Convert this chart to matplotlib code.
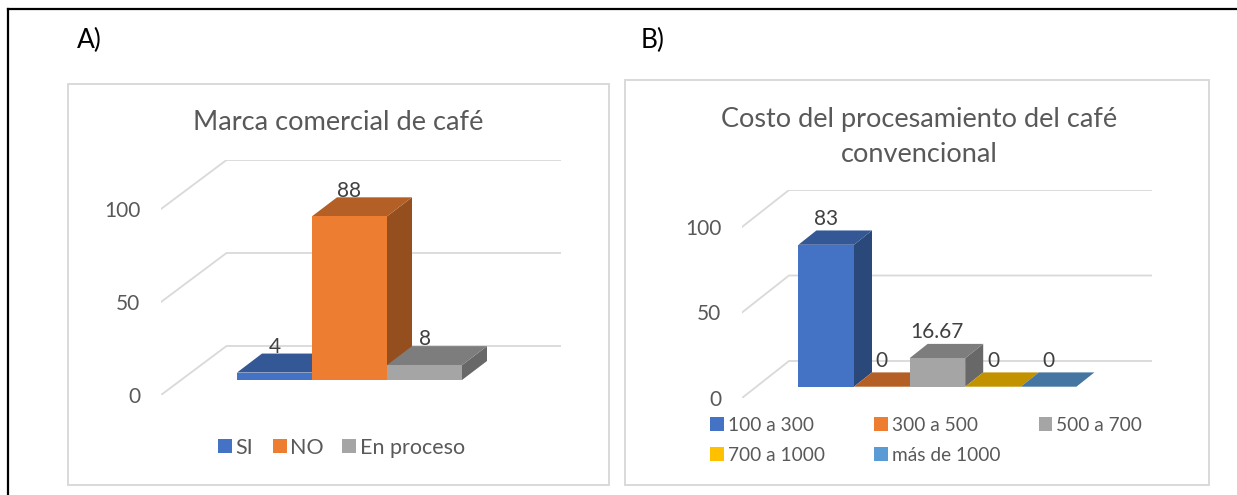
import matplotlib
matplotlib.use('Agg')
import matplotlib.pyplot as plt
from matplotlib.lines import Line2D
from matplotlib.patches import Polygon, Rectangle
from matplotlib.colors import to_rgb

plt.rcParams['font.family'] = ['Lato', 'DejaVu Sans']

W, H = 1237, 495
GRID = '#D9D9D9'
TEXT = '#595959'

# Marca comercial de cafe
marca_labels = ['SI', 'NO', 'En proceso']
marca_values = [4, 88, 8]
marca_colors = ['#4472C4', '#ED7D31', '#A5A5A5']

# Costo del procesamiento
costo_labels = ['100 a 300', '300 a 500', '500 a 700', '700 a 1000', 'más de 1000']
costo_values = [83, 0, 16.67, 0, 0]
costo_value_text = ['83', '0', '16.67', '0', '0']
costo_colors = ['#4472C4', '#ED7D31', '#A5A5A5', '#FFC000', '#5B9BD5']

y_ticks = [0, 50, 100]


def fx(x):
    return x / W


def fy(y):
    return 1 - y / H


def shade(color, k):
    return tuple(c * k for c in to_rgb(color))


def panel_box(x0, y0, x1, y1):
    fig.add_artist(Rectangle((fx(x0), fy(y1)), (x1 - x0) / W, (y1 - y0) / H,
                             facecolor='none', edgecolor=GRID, linewidth=1.4))


def legend_entry(x, y, label, color, size):
    fig.add_artist(Rectangle((fx(x), fy(y + 7)), 13.5 / W, 14 / H,
                             facecolor=color, edgecolor='none'))
    fig.text(fx(x + 17.5), fy(y), label, fontsize=size, color=TEXT, va='center_baseline')


def bars_3d(rect, bar_left, unit, scale, wall, lift, depth, values, texts, colors, fontsize):
    left, top, right, bottom = rect
    ax = fig.add_axes([fx(left), fy(bottom), (right - left) / W, (bottom - top) / H])
    ax.patch.set_visible(False)
    ax.set_xlim((left - bar_left) / unit, (right - bar_left) / unit)
    ax.set_ylim(0, (bottom - top) / scale)
    for s in ax.spines.values():
        s.set_visible(False)
    ax.set_xticks([])
    ax.set_yticks(y_ticks)
    ax.tick_params(axis='y', length=0, pad=15, labelsize=fontsize, labelcolor=TEXT)

    # floor and back wall lines, going back from the value axis
    x_start = ax.get_xlim()[0]
    wall_dx, wall_dy = wall[0] / unit, wall[1] / scale
    for t in y_ticks:
        ax.plot([x_start, x_start + wall_dx, ax.get_xlim()[1]], [t, t + wall_dy, t + wall_dy],
                color=GRID, linewidth=1.3, solid_joinstyle='miter', zorder=1)

    base = lift / scale
    dx, dy = depth[0] / unit, depth[1] / scale
    for i, (v, c) in enumerate(zip(values, colors)):
        y1 = base + v
        # side and top first, the front face sits over them
        ax.add_patch(Polygon([(i + 1, base), (i + 1 + dx, base + dy), (i + 1 + dx, y1 + dy), (i + 1, y1)],
                             facecolor=shade(c, 0.63), edgecolor='none', zorder=2 + i))
        ax.add_patch(Polygon([(i, y1), (i + dx, y1 + dy), (i + 1 + dx, y1 + dy), (i + 1, y1)],
                             facecolor=shade(c, 0.76), edgecolor='none', zorder=2 + i))
        ax.bar(i, v, width=1, bottom=base, align='edge', color=c, linewidth=0, zorder=2 + i)

    for i, v in enumerate(values):
        ax.annotate(texts[i], (i + 0.5, base + v), xytext=(0, 18.5), textcoords='offset points',
                    ha='center', va='center', fontsize=fontsize, color='#404040', zorder=20)
    return ax


fig = plt.figure(figsize=(W / 100, H / 100), dpi=100)
fig.patch.set_facecolor('white')

# outer frame, only top and left are inside the page
fig.add_artist(Line2D([fx(8), fx(8)], [0, fy(9)], color='black', linewidth=1.6))
fig.add_artist(Line2D([fx(8), 1], [fy(9), fy(9)], color='black', linewidth=1.6))

fig.text(fx(77), fy(40), 'A)', fontsize=19, color='black', va='center')
fig.text(fx(640.5), fy(40), 'B)', fontsize=19, color='black', va='center')

# A
panel_box(68, 83.5, 609, 485)
fig.text(fx(338), fy(122), 'Marca comercial de café', fontsize=19.6, color=TEXT, ha='center', va='center')
bars_3d((161, 160, 561, 395), 237, 75, 1.86, (65.5, 49), 15, (25, 19),
        marca_values, [str(v) for v in marca_values], marca_colors, 15)
for x, lab, col in zip([218, 273, 342.5], marca_labels, marca_colors):
    legend_entry(x, 446, lab, col, 15.5)

# B
panel_box(625, 79.5, 1208.5, 485)
fig.text(fx(919.5), fy(136.5), 'Costo del procesamiento del café\nconvencional', fontsize=19.5, color=TEXT,
         ha='center', va='center', linespacing=1.5)
bars_3d((742, 190.5, 1151.5, 398), 798.4, 55.6, 1.71, (47, 37), 11.3, (18, 14.3),
        costo_values, costo_value_text, costo_colors, 15)
for i, (lab, col) in enumerate(zip(costo_labels, costo_colors)):
    legend_entry(710 + (i % 3) * 164.3, 424 + (i // 3) * 30, lab, col, 13.8)

fig.savefig('out.png', dpi=100)
